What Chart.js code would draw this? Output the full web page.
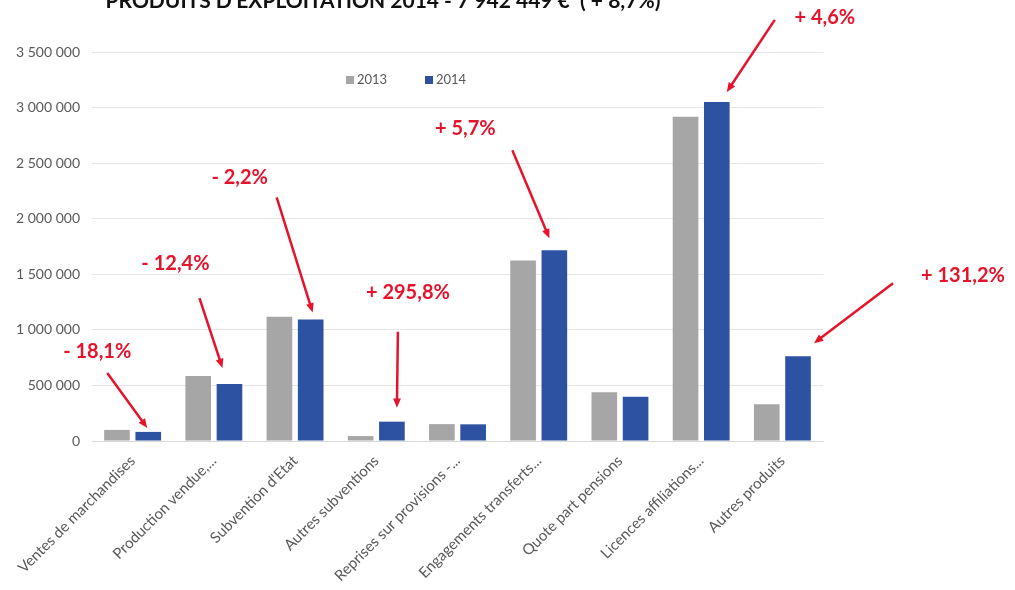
<!DOCTYPE html>
<html>
<head>
<meta charset="utf-8">
<script src="https://cdn.jsdelivr.net/npm/chart.js@4.4.1/dist/chart.umd.min.js"></script>
<style>
  html, body { margin: 0; padding: 0; background: #fff; }
  #wrap { width: 1015px; height: 590px; }
</style>
</head>
<body>
<div id="wrap"><canvas id="chart_div" width="1015" height="590"></canvas></div>
<script>
const categories = [
  "Ventes de marchandises", "Production vendue,...", "Subvention d'Etat",
  "Autres subventions", "Reprises sur provisions -...", "Engagements transferts...",
  "Quote part pensions", "Licences affiliations...", "Autres produits"
];
const values2013 = [100000, 585000, 1118000, 44000, 152000, 1625000, 438000, 2917000, 330000];
const values2014 = [81900, 512500, 1093400, 174000, 150000, 1717000, 398000, 3051000, 763000];
const variations = ["- 18,1%", "- 12,4%", "- 2,2%", "+ 295,8%", null, "+ 5,7%", null, "+ 4,6%", "+ 131,2%"];
const yTicks = [0, 500000, 1000000, 1500000, 2000000, 2500000, 3000000, 3500000];
const titleText = "PRODUITS D'EXPLOITATION 2014 - 7 942 449 €  ( + 8,7%)";

// arrow placement relative to the top of the 2014 bar (pixels)
const arrowLayout = [
  { head: [-1, -4],  tail: [-41, -59], text: [-51, -80] },
  { head: [-7, -16], tail: [-30, -86], text: [-54, -120] },
  { head: [2, -7],   tail: [-34, -122], text: [-71, -142] },
  { head: [5, -14],  tail: [6, -90],   text: [16, -129] },
  null,
  { head: [-5, -12], tail: [-42, -100], text: [-89, -122] },
  null,
  { head: [10, -10], tail: [58, -82],  text: [108, -84] },
  { head: [16, -13], tail: [95, -73],  text: [165, -81] }
];

const fmt = v => String(v).replace(/\B(?=(\d{3})+(?!\d))/g, ' ');

// title cut at the top edge + legend inside the plot
const decor = {
  id: 'decor',
  afterDraw(chart) {
    const c = chart.ctx;
    const area = chart.chartArea;
    c.save();
    c.fillStyle = '#111';
    c.font = 'bold 21px Lato';
    c.textAlign = 'center';
    c.textBaseline = 'alphabetic';
    c.fillText(titleText, 383, 8);

    c.font = '13px Lato';
    c.textBaseline = 'middle';
    c.textAlign = 'left';
    const ly = area.top + 28;
    let lx = 346;
    chart.data.datasets.forEach(ds => {
      c.fillStyle = ds.backgroundColor;
      c.fillRect(lx, ly - 4, 8, 8);
      c.fillStyle = '#595959';
      c.fillText(ds.label, lx + 11, ly);
      lx += 79;
    });
    c.restore();
  }
};

const arrows = {
  id: 'arrows',
  afterDatasetsDraw(chart) {
    const c = chart.ctx;
    const meta = chart.getDatasetMeta(1);
    c.save();
    c.strokeStyle = '#e5132b';
    c.fillStyle = '#e5132b';
    c.lineWidth = 2.5;
    c.font = 'bold 20px Lato';
    c.textAlign = 'center';
    c.textBaseline = 'middle';
    variations.forEach((txt, i) => {
      const lay = arrowLayout[i];
      if (!txt || !lay) return;
      const bar = meta.data[i];
      const bx = bar.x, by = bar.y;
      const hx = bx + lay.head[0], hy = by + lay.head[1];
      const tx = bx + lay.tail[0], ty = by + lay.tail[1];
      const ang = Math.atan2(hy - ty, hx - tx);
      const len = 10;
      const ex = hx - Math.cos(ang) * len * 0.8, ey = hy - Math.sin(ang) * len * 0.8;
      c.beginPath();
      c.moveTo(tx, ty);
      c.lineTo(ex, ey);
      c.stroke();
      c.beginPath();
      c.moveTo(hx, hy);
      c.lineTo(hx - Math.cos(ang - 0.4) * len, hy - Math.sin(ang - 0.4) * len);
      c.lineTo(hx - Math.cos(ang + 0.4) * len, hy - Math.sin(ang + 0.4) * len);
      c.closePath();
      c.fill();
      c.fillText(txt, bx + lay.text[0], by + lay.text[1]);
    });
    c.restore();
  }
};

const ctx = document.getElementById('chart_div');
new Chart(ctx, {
  type: 'bar',
  data: {
    labels: categories,
    datasets: [
      { label: '2013', data: values2013, backgroundColor: '#a6a6a6',
        categoryPercentage: 0.77, barPercentage: 0.82 },
      { label: '2014', data: values2014, backgroundColor: '#2d52a1',
        categoryPercentage: 0.77, barPercentage: 0.82 }
    ]
  },
  options: {
    responsive: false,
    animation: false,
    layout: { padding: { left: 0, right: 192, top: 52, bottom: 0 } },
    plugins: {
      title: { display: false },
      legend: { display: false },
      tooltip: { enabled: false }
    },
    scales: {
      y: {
        min: 0,
        max: 3500000,
        afterBuildTicks: s => { s.ticks = yTicks.map(v => ({ value: v })); },
        afterFit: s => { s.width = 92; },
        border: { display: false },
        grid: { color: '#e6e6e6', drawTicks: false },
        ticks: {
          padding: 12, color: '#595959',
          font: { family: 'Lato', size: 14 },
          callback: v => fmt(v)
        }
      },
      x: {
        afterFit: s => { s.height = 149; },
        border: { display: true, color: '#d9d9d9' },
        grid: { display: false },
        ticks: {
          minRotation: 45, maxRotation: 45, autoSkip: false, padding: 3,
          color: '#595959', font: { family: 'Lato', size: 15 }
        }
      }
    }
  },
  plugins: [arrows, decor]
});
</script>
</body>
</html>
